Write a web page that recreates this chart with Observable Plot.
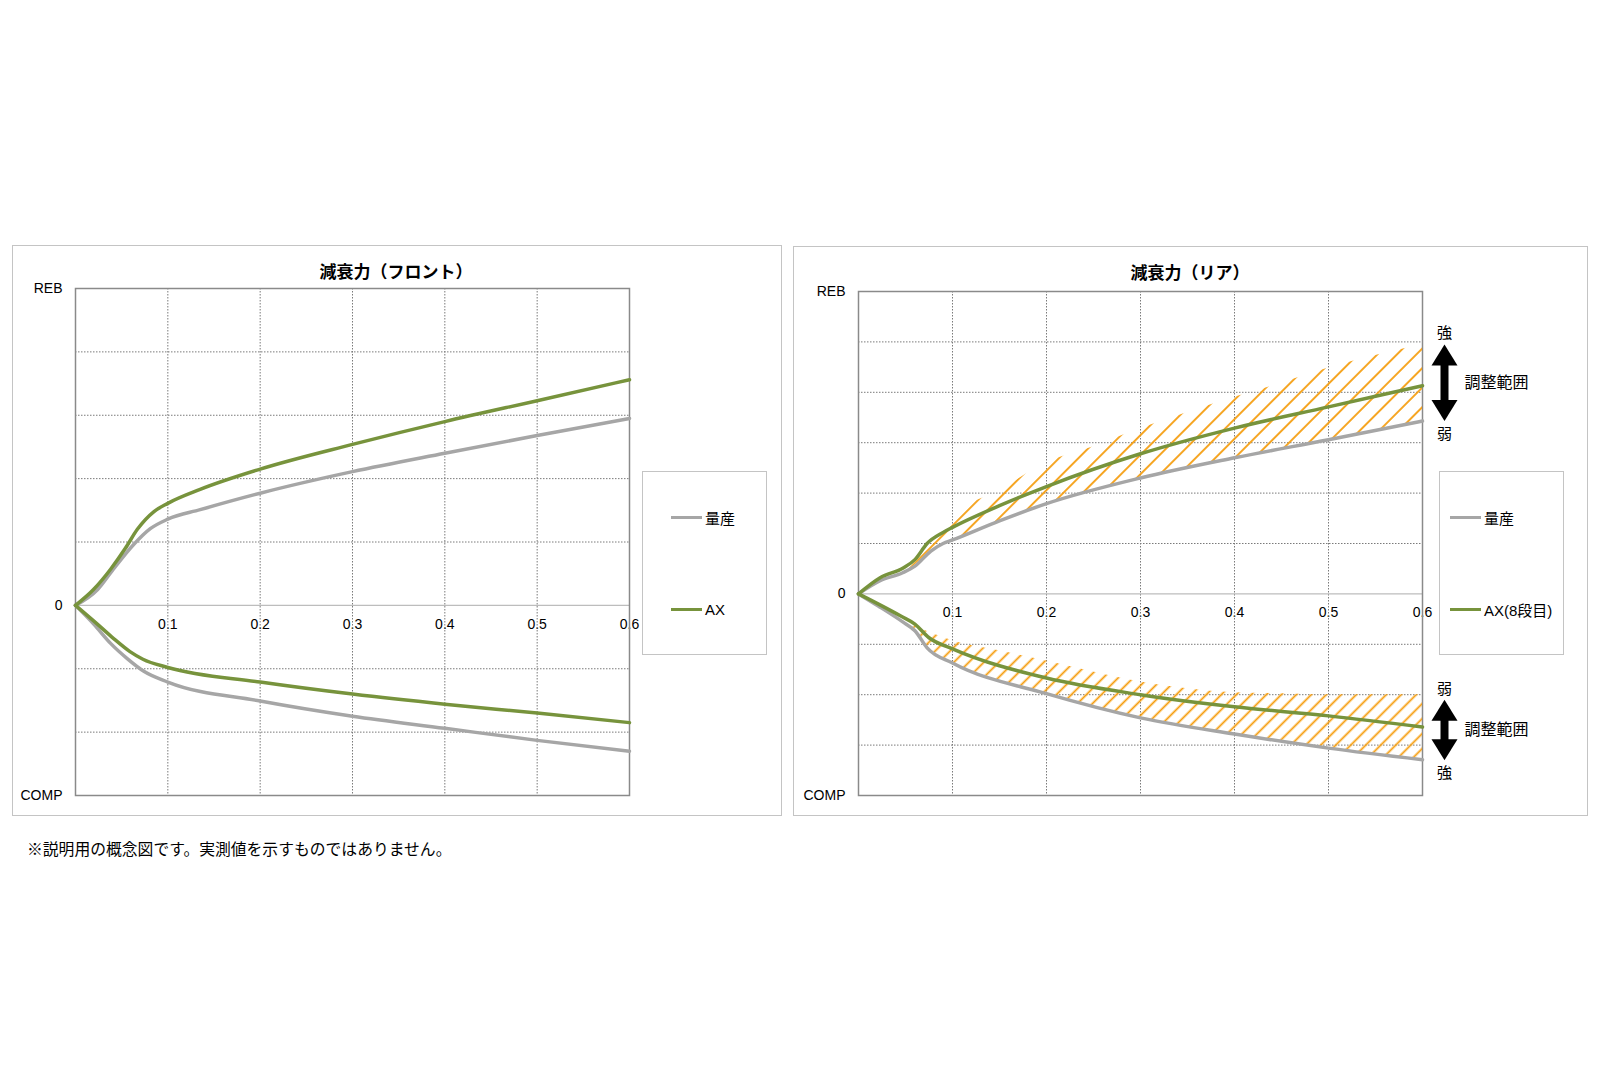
<!DOCTYPE html>
<html>
<head>
<meta charset="utf-8">
<script src="https://cdn.jsdelivr.net/npm/d3@7"></script>
<script src="https://cdn.jsdelivr.net/npm/@observablehq/plot@0.6"></script>
<style>
  html, body { margin: 0; padding: 0; background: #fff; }
  body { width: 1600px; height: 1066px; position: relative; overflow: hidden;
         font-family: "Liberation Sans", Arial, "Noto Sans CJK JP", sans-serif; color: #000; }
  .panel { position: absolute; border: 1px solid #c4c4c4; box-sizing: border-box; }
  .chart { position: absolute; }
  .title { position: absolute; transform: translate(-50%, -50%); white-space: nowrap;
           font-family: "Noto Sans CJK JP", sans-serif; font-weight: bold; font-size: 17px; }
  .legend { position: absolute; border: 1px solid #c4c4c4; box-sizing: border-box; background: #fff; }
  .li { position: absolute; height: 20px; display: flex; align-items: center; white-space: nowrap;
        font-size: 15px; font-family: "Liberation Sans", Arial, "Noto Sans CJK JP", sans-serif; }
  .sw { width: 31px; height: 3px; margin-right: 3px; }
  .note { position: absolute; left: 27px; top: 838px; font-size: 15.8px; line-height: 22px;
          font-family: "Noto Sans CJK JP", sans-serif; white-space: nowrap; }
</style>
</head>
<body>
<div class="panel" style="left:12px;top:245px;width:770px;height:571px;"></div>
<div class="panel" style="left:793px;top:246px;width:795px;height:570px;"></div>
<div class="chart" id="front" style="left:12px;top:245px;width:770px;height:571px;"></div>
<div class="chart" id="rear" style="left:793px;top:246px;width:795px;height:570px;"></div>
<div class="title" id="frontTitle" style="left:396px;top:270px;"></div>
<div class="title" id="rearTitle" style="left:1190px;top:271px;"></div>
<div class="legend" id="frontLegend" style="left:642px;top:471px;width:125px;height:184px;"></div>
<div class="legend" id="rearLegend" style="left:1439px;top:471px;width:125px;height:184px;"></div>
<div class="note" id="note"></div>
<script>
// ---------- text ----------
const frontTitle = "減衰力（フロント）";
const rearTitle = "減衰力（リア）";
const footnote = "※説明用の概念図です。実測値を示すものではありません。";
const seriesNames = ["量産", "AX"];
const rearSeriesNames = ["量産", "AX(8段目)"];
const yAxisLabels = ["COMP", "0", "REB"];
const rangeLabel = "調整範囲";
const rebRangeEnds = ["強", "弱"];
const compRangeEnds = ["弱", "強"];

// ---------- axes ----------
const xDomain = [0, 0.6];
const xTicks = [0.1, 0.2, 0.3, 0.4, 0.5, 0.6];
const xTickLabels = ["0.1", "0.2", "0.3", "0.4", "0.5", "0.6"];
const frontYDomain = [-3, 5];
const frontYGrid = [-2, -1, 1, 2, 3, 4];
const rearYDomain = [-4, 6];
const rearYGrid = [-3, -2, -1, 1, 2, 3, 4, 5];

// ---------- front (フロント) series ----------
const frontStockRebX = [0, 0.024, 0.041, 0.063, 0.081, 0.1, 0.135, 0.2, 0.3, 0.4, 0.5, 0.6];
const frontStockRebY = [0, 0.25, 0.57, 0.96, 1.21, 1.36, 1.51, 1.77, 2.11, 2.40, 2.68, 2.95];
const frontAxRebX = [0, 0.0195, 0.038, 0.054, 0.067, 0.085, 0.1, 0.135, 0.2, 0.3, 0.4, 0.5, 0.6];
const frontAxRebY = [0, 0.25, 0.57, 0.90, 1.20, 1.48, 1.61, 1.83, 2.15, 2.54, 2.90, 3.23, 3.56];
const frontStockCompX = [0, 0.02, 0.038, 0.056, 0.074, 0.1, 0.2, 0.3, 0.4, 0.5, 0.6];
const frontStockCompY = [0, -0.30, -0.60, -0.84, -1.04, -1.21, -1.51, -1.75, -1.94, -2.13, -2.30];
const frontAxCompX = [0, 0.024, 0.041, 0.059, 0.073, 0.1, 0.2, 0.3, 0.4, 0.5, 0.6];
const frontAxCompY = [0, -0.30, -0.52, -0.73, -0.85, -0.98, -1.21, -1.40, -1.56, -1.70, -1.85];

// ---------- rear (リア) series ----------
const rearStockRebX = [0, 0.023, 0.047, 0.06, 0.077, 0.09, 0.1, 0.15, 0.2, 0.3, 0.4, 0.5, 0.6];
const rearStockRebY = [0, 0.26, 0.42, 0.55, 0.85, 1.0, 1.07, 1.45, 1.79, 2.30, 2.70, 3.06, 3.43];
const rearAxRebX = [0, 0.023, 0.048, 0.06, 0.073, 0.09, 0.1, 0.15, 0.2, 0.3, 0.4, 0.5, 0.6];
const rearAxRebY = [0, 0.32, 0.52, 0.68, 1.0, 1.22, 1.32, 1.75, 2.13, 2.78, 3.29, 3.71, 4.13];
const rearStockCompX = [0, 0.021, 0.049, 0.06, 0.073, 0.1, 0.2, 0.3, 0.4, 0.5, 0.6];
const rearStockCompY = [0, -0.24, -0.58, -0.73, -1.07, -1.37, -1.98, -2.46, -2.78, -3.06, -3.29];
const rearAxCompX = [0, 0.045, 0.06, 0.075, 0.1, 0.2, 0.3, 0.4, 0.5, 0.6];
const rearAxCompY = [0, -0.44, -0.60, -0.87, -1.09, -1.67, -2.00, -2.24, -2.42, -2.64];

// adjustment ranges (hatched)
const rearRebBandX = [0.045, 0.055, 0.07, 0.085, 0.1, 0.15, 0.2, 0.25, 0.3, 0.35, 0.4, 0.45, 0.5, 0.55, 0.6];
const rearRebBandLow = [0.40, 0.50, 0.72, 0.95, 1.07, 1.45, 1.79, 2.06, 2.30, 2.51, 2.70, 2.88, 3.06, 3.25, 3.43];
const rearRebBandHigh = [0.50, 0.62, 0.95, 1.25, 1.55, 2.05, 2.60, 2.92, 3.28, 3.60, 3.90, 4.18, 4.48, 4.73, 4.95];
const rearCompBandX = [0.055, 0.07, 0.085, 0.1, 0.15, 0.2, 0.25, 0.3, 0.35, 0.4, 0.45, 0.5, 0.55, 0.6];
const rearCompBandLow = [-0.68, -0.98, -1.22, -1.37, -1.72, -1.98, -2.24, -2.46, -2.63, -2.78, -2.93, -3.06, -3.18, -3.29];
const rearCompBandHigh = [-0.60, -0.72, -0.83, -0.93, -1.13, -1.33, -1.55, -1.75, -1.88, -1.96, -1.98, -2.0, -2.0, -2.0];
const rearRebRange = [4.95, 3.43];
const rearCompRange = [-2.1, -3.3];

// ---------- styles ----------
const GRAY = "#a6a6a6", GREEN = "#77933c", HATCH = "#f59d0e";
const FONT = "'Liberation Sans', Arial, 'Noto Sans CJK JP', sans-serif";
const GRID = {stroke: "#7a7a7a", strokeWidth: 1, strokeDasharray: "1.5,1.5"};

const pairs = (xs, ys) => xs.map((x, i) => ({x, y: ys[i]}));
const band = (xs, lo, hi) => xs.map((x, i) => ({x, lo: lo[i], hi: hi[i]}));

function baseMarks(yDomain, yGrid) {
  const yLab = [yDomain[0], 0, yDomain[1]];
  return [
    Plot.text(xTicks, {x: d => d, y: () => 0, dy: 19, text: (d, i) => xTickLabels[i], fontSize: 14, fill: "#000"}),
    Plot.ruleX(xTicks.slice(0, -1), {x: d => d, ...GRID}),
    Plot.ruleY(yGrid, {y: d => d, ...GRID}),
    Plot.ruleY([0], {y: d => d, stroke: "#bdbdbd", strokeWidth: 1.3}),
    Plot.frame({stroke: "#8a8a8a", strokeWidth: 1.5}),
    Plot.text(yLab, {y: d => d, text: (d, i) => yAxisLabels[i], frameAnchor: "left", dx: -13, textAnchor: "end", fontSize: 14, fill: "#000"})
  ];
}
function curveMarks(xs, ys, color) {
  return Plot.line(pairs(xs, ys), {x: "x", y: "y", stroke: color, strokeWidth: 3.5, curve: "monotone-x"});
}

const headUp = {draw(ctx) { ctx.moveTo(0, 0); ctx.lineTo(13, 21); ctx.lineTo(-13, 21); ctx.closePath(); }};
const headDown = {draw(ctx) { ctx.moveTo(0, 0); ctx.lineTo(13, -21); ctx.lineTo(-13, -21); ctx.closePath(); }};
function arrowMarks(range, ends) {
  const ax = () => xDomain[1];
  return [
    Plot.ruleX([range], {x: ax, y1: d => d[0], y2: d => d[1], dx: 22, stroke: "#000", strokeWidth: 8, insetTop: 18, insetBottom: 18}),
    Plot.dot([range[0]], {x: ax, y: d => d, dx: 22, symbol: headUp, fill: "#000", stroke: "none", r: 5}),
    Plot.dot([range[1]], {x: ax, y: d => d, dx: 22, symbol: headDown, fill: "#000", stroke: "none", r: 5}),
    Plot.text([range[0]], {x: ax, y: d => d, dx: 22, dy: -11, text: () => ends[0], fontSize: 15, fill: "#000"}),
    Plot.text([range[1]], {x: ax, y: d => d, dx: 22, dy: 13, text: () => ends[1], fontSize: 15, fill: "#000"}),
    Plot.text([range], {x: ax, y: d => (d[0] + d[1]) / 2, dx: 42, textAnchor: "start", text: () => rangeLabel, fontSize: 16, fill: "#000"})
  ];
}

// ---------- front chart ----------
const front = Plot.plot({
  width: 770, height: 571,
  marginLeft: 63, marginTop: 43, marginRight: 153, marginBottom: 21,
  x: {domain: xDomain, axis: null},
  y: {domain: frontYDomain, axis: null},
  style: {background: "transparent", fontFamily: FONT, fontSize: "14px", overflow: "visible"},
  marks: [
    ...baseMarks(frontYDomain, frontYGrid),
    curveMarks(frontStockRebX, frontStockRebY, GRAY),
    curveMarks(frontStockCompX, frontStockCompY, GRAY),
    curveMarks(frontAxRebX, frontAxRebY, GREEN),
    curveMarks(frontAxCompX, frontAxCompY, GREEN)
  ]
});
document.getElementById("front").appendChild(front);

// ---------- rear chart ----------
const rear = Plot.plot({
  width: 795, height: 570,
  marginLeft: 65, marginTop: 45, marginRight: 166, marginBottom: 21,
  x: {domain: xDomain, axis: null},
  y: {domain: rearYDomain, axis: null},
  style: {background: "transparent", fontFamily: FONT, fontSize: "14px", overflow: "visible"},
  marks: [
    ...baseMarks(rearYDomain, rearYGrid),
    Plot.areaY(band(rearRebBandX, rearRebBandLow, rearRebBandHigh), {x: "x", y1: "lo", y2: "hi", fill: "url(#hatchReb)", curve: "monotone-x"}),
    Plot.areaY(band(rearCompBandX, rearCompBandLow, rearCompBandHigh), {x: "x", y1: "lo", y2: "hi", fill: "url(#hatchComp)", curve: "monotone-x"}),
    curveMarks(rearStockRebX, rearStockRebY, GRAY),
    curveMarks(rearStockCompX, rearStockCompY, GRAY),
    curveMarks(rearAxRebX, rearAxRebY, GREEN),
    curveMarks(rearAxCompX, rearAxCompY, GREEN),
    ...arrowMarks(rearRebRange, rebRangeEnds),
    ...arrowMarks(rearCompRange, compRangeEnds)
  ]
});
// hatch patterns
const defs = d3.select(rear).insert("defs", ":first-child");
[["hatchReb", 13.8], ["hatchComp", 10.6]].forEach(([id, s]) => {
  const p = defs.append("pattern").attr("id", id).attr("patternUnits", "userSpaceOnUse")
    .attr("width", s).attr("height", s).attr("patternTransform", "rotate(45)");
  p.append("line").attr("x1", s / 2).attr("y1", 0).attr("x2", s / 2).attr("y2", s)
    .attr("stroke", HATCH).attr("stroke-width", 1.8);
});
document.getElementById("rear").appendChild(rear);

// ---------- titles, legends, note ----------
document.getElementById("frontTitle").textContent = frontTitle;
document.getElementById("rearTitle").textContent = rearTitle;
document.getElementById("note").textContent = footnote;

function legend(el, names, left) {
  const colors = [GRAY, GREEN];
  const tops = [35, 127];
  names.forEach((n, i) => {
    const li = document.createElement("div");
    li.className = "li";
    li.style.left = left + "px";
    li.style.top = tops[i] + "px";
    const sw = document.createElement("span");
    sw.className = "sw";
    sw.style.background = colors[i];
    const t = document.createElement("span");
    t.textContent = n;
    li.appendChild(sw); li.appendChild(t);
    el.appendChild(li);
  });
}
legend(document.getElementById("frontLegend"), seriesNames, 28);
legend(document.getElementById("rearLegend"), rearSeriesNames, 10);
</script>
</body>
</html>
